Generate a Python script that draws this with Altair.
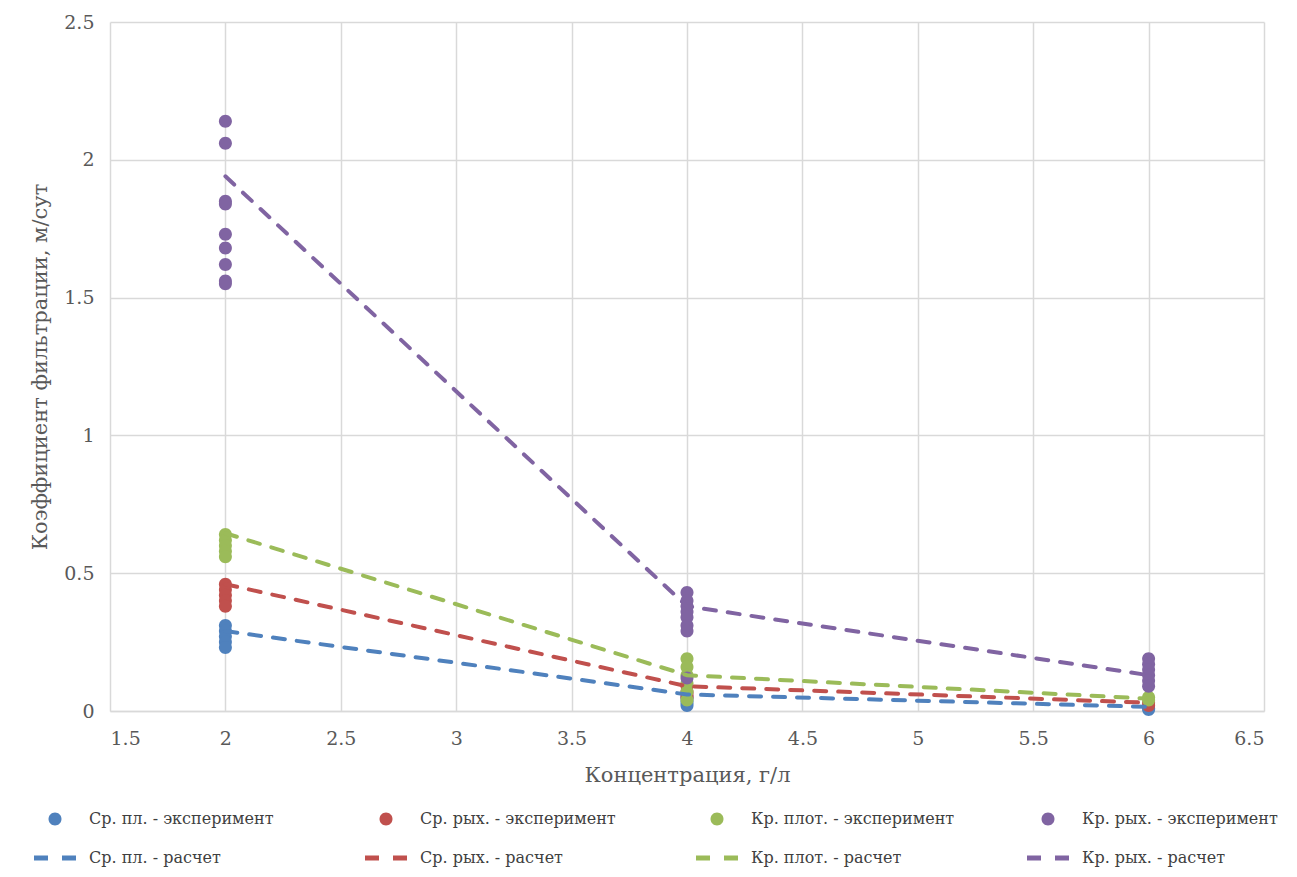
import altair as alt
import pandas as pd

# ---- data ----
series_exp = ["Ср. пл. - эксперимент", "Ср. рых. - эксперимент",
              "Кр. плот. - эксперимент", "Кр. рых. - эксперимент"]
series_calc = ["Ср. пл. - расчет", "Ср. рых. - расчет",
               "Кр. плот. - расчет", "Кр. рых. - расчет"]
colors = ["#4F81BD", "#C0504D", "#9BBB59", "#8064A2"]

conc = [2, 4, 6]

# experimental points per series at concentration 2, 4, 6
sp_pl_2 = [0.31, 0.29, 0.27, 0.25, 0.23]
sp_pl_4 = [0.05, 0.04, 0.03, 0.02]
sp_pl_6 = [0.01, 0.005]

sp_ryh_2 = [0.46, 0.44, 0.42, 0.40, 0.38]
sp_ryh_4 = [0.09, 0.07, 0.06, 0.05]
sp_ryh_6 = [0.03, 0.02]

kr_plot_2 = [0.64, 0.62, 0.60, 0.58, 0.56]
kr_plot_4 = [0.19, 0.16, 0.13, 0.10, 0.07, 0.04]
kr_plot_6 = [0.05, 0.04]

kr_ryh_2 = [2.14, 2.06, 1.85, 1.84, 1.73, 1.68, 1.62, 1.56, 1.55]
kr_ryh_4 = [0.43, 0.40, 0.38, 0.36, 0.34, 0.31, 0.29, 0.12]
kr_ryh_6 = [0.19, 0.17, 0.15, 0.13, 0.11, 0.09]

# calculated values at concentration 2, 4, 6
sp_pl_calc = [0.29, 0.06, 0.015]
sp_ryh_calc = [0.46, 0.09, 0.03]
kr_plot_calc = [0.645, 0.13, 0.045]
kr_ryh_calc = [1.94, 0.38, 0.13]

x_ticks = [1.5, 2, 2.5, 3, 3.5, 4, 4.5, 5, 5.5, 6, 6.5]
y_ticks = [0, 0.5, 1, 1.5, 2, 2.5]

# ---- tables ----
exp_groups = [
    (series_exp[0], [sp_pl_2, sp_pl_4, sp_pl_6]),
    (series_exp[1], [sp_ryh_2, sp_ryh_4, sp_ryh_6]),
    (series_exp[2], [kr_plot_2, kr_plot_4, kr_plot_6]),
    (series_exp[3], [kr_ryh_2, kr_ryh_4, kr_ryh_6]),
]
rows = []
for order, (name, groups) in enumerate(exp_groups):
    for c, vals in zip(conc, groups):
        for v in vals:
            rows.append({"x": c, "y": v, "series": name, "ord": order})
pts = pd.DataFrame(rows)

calc_groups = [
    (series_calc[0], sp_pl_calc),
    (series_calc[1], sp_ryh_calc),
    (series_calc[2], kr_plot_calc),
    (series_calc[3], kr_ryh_calc),
]
lrows = []
for name, vals in calc_groups:
    for c, v in zip(conc, vals):
        lrows.append({"x": c, "y": v, "series": name})
lines = pd.DataFrame(lrows)

domain = series_exp + series_calc
color_range = colors + colors
circle = "M-0.65,0 A0.65,0.65 0 1,0 0.65,0 A0.65,0.65 0 1,0 -0.65,0 Z"
dash = ("M-2.1,-0.25 L-0.7,-0.25 L-0.7,0.25 L-2.1,0.25 Z "
        "M0.7,-0.25 L2.1,-0.25 L2.1,0.25 L0.7,0.25 Z")
shape_range = [circle] * 4 + [dash] * 4

FONT = "DejaVu Serif"
GRAY = "#595959"

legend = alt.Legend(
    title=None, orient="none", legendX=-65, legendY=787,
    columns=4, direction="horizontal", gridAlign="all",
    columnPadding=72, rowPadding=21,
    symbolSize=400, symbolStrokeWidth=0, symbolOpacity=1,
    labelFont=FONT, labelFontSize=16, labelColor="#404040",
    labelOffset=24, labelLimit=400,
)

color_scale = alt.Scale(domain=domain, range=color_range)
shape_scale = alt.Scale(domain=domain, range=shape_range)

x_enc = alt.X("x:Q", scale=alt.Scale(domain=[1.5, 6.5], nice=False),
              axis=alt.Axis(values=x_ticks, format=".1~f",
                            title="Концентрация, г/л", titleY=64,
                            titleBaseline="middle"))
y_enc = alt.Y("y:Q", scale=alt.Scale(domain=[0, 2.5], nice=False),
              axis=alt.Axis(values=y_ticks, format=".1~f",
                            title="Коэффициент фильтрации, м/сут",
                            titleX=-70, titleY=344.5, titleAngle=-90,
                            titleAlign="center", titleBaseline="middle"))

points = alt.Chart(pts).mark_point(filled=True, size=400, opacity=1, strokeWidth=0).encode(
    x=x_enc, y=y_enc,
    color=alt.Color("series:N", scale=color_scale, legend=legend),
    shape=alt.Shape("series:N", scale=shape_scale, legend=legend),
    order=alt.Order("ord:Q"),
)

calc = alt.Chart(lines).mark_line(strokeDash=[12, 12], strokeWidth=4, strokeCap="round").encode(
    x=x_enc, y=y_enc,
    color=alt.Color("series:N", scale=color_scale, legend=None),
    detail="series:N",
)

chart = alt.layer(points, calc).properties(
    width=1154, height=689,
    autosize=alt.AutoSizeParams(type="none"),
    padding={"left": 102, "top": 14, "right": 25, "bottom": 158},
    background="white",
).configure(font=FONT).configure_view(stroke=None).configure_axis(
    grid=True, gridColor="#d9d9d9", gridWidth=1.5,
    domain=False, ticks=False,
    labelFont=FONT, labelFontSize=19, labelColor=GRAY, labelPadding=16,
    titleFont=FONT, titleFontSize=21, titleColor=GRAY, titleFontWeight="normal",
).configure_axisX(domain=True, domainColor="#d9d9d9", domainWidth=1.5, labelPadding=18)

chart.save("out.html", embed_options={"renderer": "svg", "actions": False})
